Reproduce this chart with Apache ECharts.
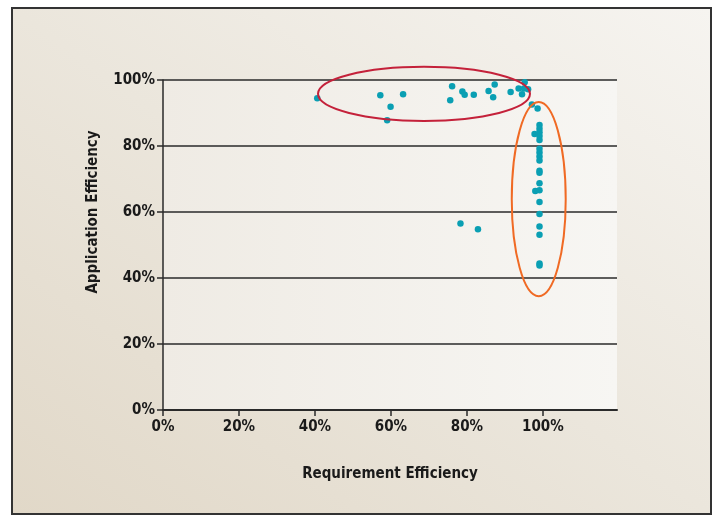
<!DOCTYPE html>
<html>
<head>
<meta charset="utf-8">
<script src="https://cdn.jsdelivr.net/npm/echarts@6/dist/echarts.min.js"></script>
<style>
  html, body { margin: 0; padding: 0; background: #fff; }
  #wrap { position: relative; width: 718px; height: 516px; background: #fff; }
  #panel {
    position: absolute; left: 11px; top: 7px; width: 697px; height: 504px;
    border: 2px solid #333;
    background: linear-gradient(to top right, #e1d8c8 0%, #ebe6dc 50%, #f6f4f0 100%);
  }
  #chart { position: absolute; left: 0; top: 0; width: 718px; height: 516px; }
</style>
</head>
<body>
<div id="wrap">
  <div id="panel"></div>
  <div id="chart"></div>
</div>
<script>
// requirement efficiency (x, %) and application efficiency (y, %)
var reqEff = [
  40.6, 57.2, 63.2, 59.9, 59.0, 76.1, 75.6, 78.8, 79.4, 81.8, 87.3, 85.7, 86.9,
  91.5, 95.2, 93.6, 95.0, 96.1, 94.5, 97.1, 98.6,
  78.3, 82.9,
  99.1, 99.1, 99.1, 99.1, 99.1, 99.1, 99.1, 99.1, 99.1, 99.1, 99.1, 99.1, 99.1,
  99.1, 99.1, 99.1, 99.1, 99.1, 99.1, 97.8, 98.0
]
var appEff = [
  94.5, 95.4, 95.7, 91.9, 87.8, 98.1, 93.9, 96.5, 95.5, 95.5, 98.6, 96.7, 94.8,
  96.4, 99.3, 97.4, 97.4, 97.2, 95.7, 92.6, 91.4,
  56.5, 54.8,
  86.4, 85.2, 84.2, 83.0, 81.8, 79.2, 78.0, 76.8, 75.6, 72.5, 71.9, 68.7, 66.6,
  63.0, 59.4, 55.6, 53.1, 44.4, 43.8, 83.6, 66.4
]
var tickValues = [0, 20, 40, 60, 80, 100]
var tickLabels = ['0%', '20%', '40%', '60%', '80%', '100%']

// highlight ellipses in data units: [cx, cy, rx, ry]
var ellipseRed = [68.7, 95.8, 27.9, 8.2]
var ellipseOrange = [98.9, 63.9, 7.1, 29.4]

var points = reqEff.map(function (x, i) { return [x, appEff[i]] })

var font = "'Liberation Sans Narrow', 'DejaVu Sans Condensed', 'Liberation Sans', sans-serif"

var chart = echarts.init(document.getElementById('chart'))

var option = {
  backgroundColor: 'transparent',
  grid: {
    left: 163, top: 80, right: 101, bottom: 106,
    show: true,
    borderWidth: 0,
    backgroundColor: {
      type: 'linear', x: 0, y: 0, x2: 1, y2: 0,
      colorStops: [
        { offset: 0, color: '#efebe4' },
        { offset: 1, color: '#f7f6f3' }
      ]
    }
  },
  xAxis: {
    type: 'value',
    min: 0, max: 119.5, interval: 20,
    name: 'Requirement Efficiency',
    nameLocation: 'middle',
    nameGap: 57,
    nameTextStyle: { color: '#1a1a1a', fontSize: 15, fontWeight: 'bold', fontFamily: font },
    axisLine: { show: true, lineStyle: { color: '#2a2a2a', width: 2 } },
    axisTick: { show: true, length: 6, customValues: tickValues, lineStyle: { color: '#2a2a2a', width: 1.5 } },
    axisLabel: {
      color: '#1a1a1a', fontSize: 15, fontWeight: 'bold', fontFamily: font, margin: 10,
      customValues: tickValues,
      formatter: function (v) { return tickLabels[v / 20] || '' }
    },
    splitLine: { show: false }
  },
  yAxis: {
    type: 'value',
    min: 0, max: 100, interval: 20,
    name: 'Application Efficiency',
    nameLocation: 'middle',
    nameGap: 62,
    nameRotate: 90,
    nameTextStyle: {
      color: '#1a1a1a', fontSize: 15, fontWeight: 'bold', fontFamily: font,
      padding: [0, 0, 0, 66]
    },
    axisLine: { show: true, lineStyle: { color: '#2a2a2a', width: 1.5 } },
    axisTick: { show: true, length: 6, lineStyle: { color: '#2a2a2a', width: 1.5 } },
    axisLabel: {
      color: '#1a1a1a', fontSize: 15, fontWeight: 'bold', fontFamily: font, margin: 8,
      formatter: function (v) { return tickLabels[v / 20] }
    },
    splitLine: { show: true, lineStyle: { color: '#2a2a2a', width: 1.5 } }
  },
  series: [
    {
      type: 'scatter',
      data: points,
      symbolSize: 6.5,
      itemStyle: { color: '#0a9fb3', opacity: 1 },
      z: 3
    }
  ]
}

chart.setOption(option)

function ellipseGraphic (e, color) {
  var c = chart.convertToPixel({ gridIndex: 0 }, [e[0], e[1]])
  var edge = chart.convertToPixel({ gridIndex: 0 }, [e[0] + e[2], e[1] + e[3]])
  return {
    type: 'ellipse',
    shape: { cx: c[0], cy: c[1], rx: Math.abs(edge[0] - c[0]), ry: Math.abs(c[1] - edge[1]) },
    style: { fill: null, stroke: color, lineWidth: 2 },
    z: 10
  }
}

chart.setOption({
  graphic: [
    ellipseGraphic(ellipseRed, '#c4213a'),
    ellipseGraphic(ellipseOrange, '#f06a24')
  ]
})
</script>
</body>
</html>
